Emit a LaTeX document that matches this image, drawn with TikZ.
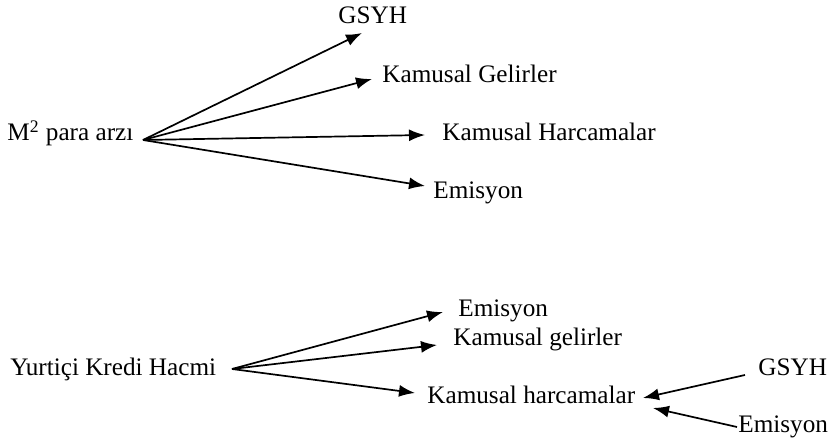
\documentclass[tikz,border=0pt]{standalone}
\usepackage{fontspec}
\setmainfont{Liberation Serif}
\usetikzlibrary{arrows.meta}

\begin{document}
\begin{tikzpicture}[x=0.5pt,y=-0.5pt,>={Latex[length=8pt,width=6pt]}]
        \tikzset{
            term/.style={font=\fontsize{12.6}{15}\selectfont,anchor=base west,inner sep=0pt},
            link/.style={->,line width=0.85pt}
        }
        \useasboundingbox (0,0) rectangle (831,442);

        % M2 para arzi
        \node[term] (m2) at (7,141) {M\textsuperscript{2} para arzı};
        \coordinate (m2out) at (143,140);

        \node[term] (gsyhA) at (338,24) {GSYH};
        \node[term] (gelirA) at (382,83) {Kamusal Gelirler};
        \node[term] (harcA) at (442,141) {Kamusal Harcamalar};
        \node[term] (emisA) at (433,199) {Emisyon};

        \coordinate (gsyhAin) at (362,33);
        \coordinate (gelirAin) at (372,79);
        \coordinate (harcAin) at (425,135);
        \coordinate (emisAin) at (425,186);

        \draw[link] (m2out) -- (gsyhAin);
        \draw[link] (m2out) -- (gelirAin);
        \draw[link] (m2out) -- (harcAin);
        \draw[link] (m2out) -- (emisAin);

        % Yurtici kredi hacmi
        \node[term] (kredi) at (10,376) {Yurtiçi Kredi Hacmi};
        \coordinate (krediout) at (232,369);

        \node[term] (emisB) at (458,317) {Emisyon};
        \node[term] (gelirB) at (453,346) {Kamusal gelirler};
        \node[term] (harcB) at (427,404) {Kamusal harcamalar};
        \node[term] (gsyhB) at (758,376) {GSYH};
        \node[term] (emisC) at (738,433) {Emisyon};

        \coordinate (emisBin) at (443,312);
        \coordinate (gelirBin) at (437,345);
        \coordinate (harcBin) at (415,393);
        \coordinate (gsyhBout) at (745,375);
        \coordinate (emisCout) at (737,427);
        \coordinate (harcBinA) at (643,398);
        \coordinate (harcBinB) at (653,408);

        \draw[link] (krediout) -- (emisBin);
        \draw[link] (krediout) -- (gelirBin);
        \draw[link] (krediout) -- (harcBin);
        \draw[link] (gsyhBout) -- (harcBinA);
        \draw[link] (emisCout) -- (harcBinB);
    \end{tikzpicture}
\end{document}
